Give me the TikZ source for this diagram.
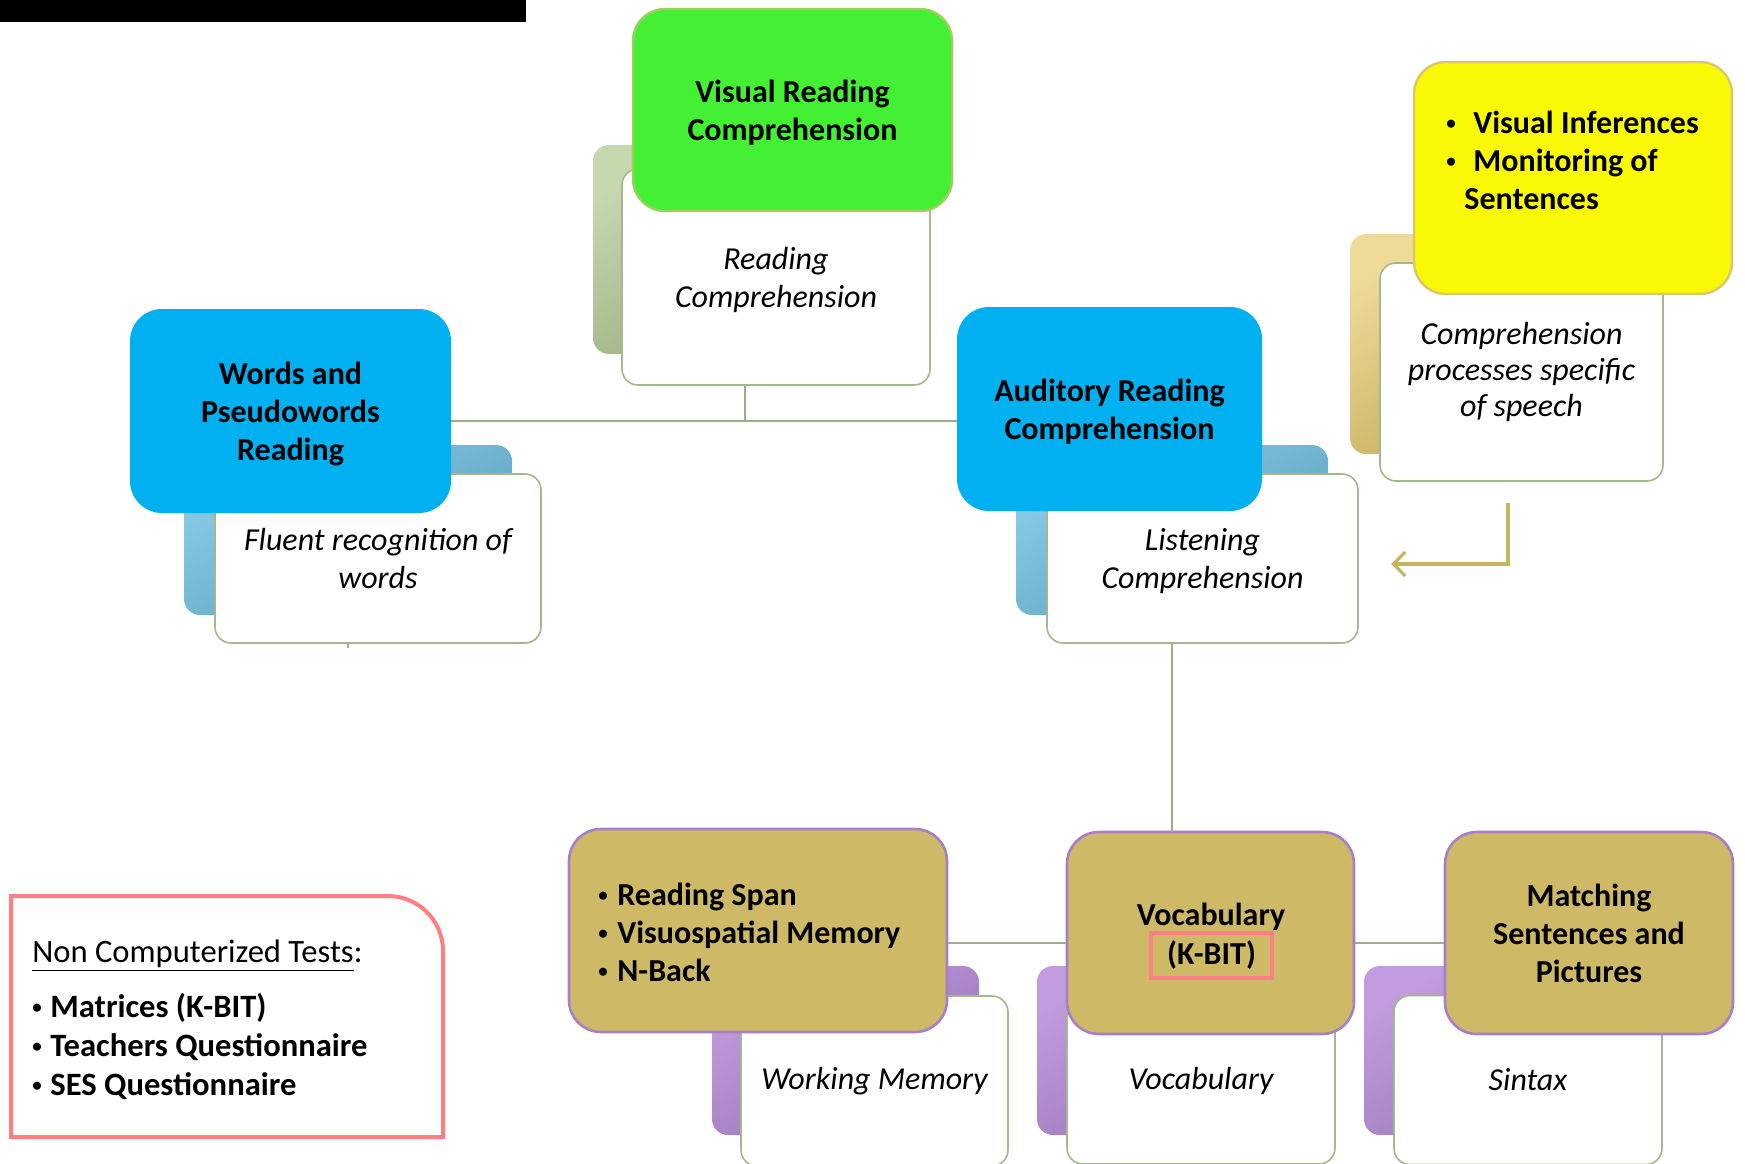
\documentclass[tikz,border=0pt]{standalone}
\usepackage{fontspec}
\setmainfont{Carlito}
\usetikzlibrary{arrows.meta}

\definecolor{greenfill}{HTML}{43F033}
\definecolor{greenline}{HTML}{9BD05C}
\definecolor{greentabA}{HTML}{C5D8AE}
\definecolor{greentabB}{HTML}{93A679}
\definecolor{bluefill}{HTML}{00B0F0}
\definecolor{bluetabA}{HTML}{8ACDE8}
\definecolor{bluetabB}{HTML}{5A9DBB}
\definecolor{yellowfill}{HTML}{F9F906}
\definecolor{yellowline}{HTML}{D9C66E}
\definecolor{yellowtabA}{HTML}{EFDB98}
\definecolor{yellowtabB}{HTML}{C2A958}
\definecolor{tanfill}{HTML}{CEB967}
\definecolor{purpleline}{HTML}{A67FC8}
\definecolor{purpletabA}{HTML}{C29CDE}
\definecolor{purpletabB}{HTML}{9672B4}
\definecolor{cardline}{HTML}{A5B88B}
\definecolor{linkgray}{HTML}{9AAE87}
\definecolor{arrowgold}{HTML}{C8B45E}
\definecolor{pinkline}{HTML}{FF7F82}

% small list bullet
\newcommand{\dotmark}{\raisebox{1.9pt}{\fontsize{9.5pt}{9.5pt}\selectfont •}}

\begin{document}
\begin{tikzpicture}[x=0.5pt, y=-0.5pt, >={Straight Barb[length=6pt,width=12pt]},
  box/.style={rounded corners=16pt, inner sep=0pt, align=center, text depth=0pt,
    font=\fontsize{16pt}{19pt}\selectfont\bfseries},
  card/.style={draw=cardline, line width=0.8pt, fill=white, rounded corners=8pt,
    inner sep=0pt, align=center, font=\fontsize{16pt}{19pt}\selectfont\itshape},
  tab/.style 2 args={rounded corners=8pt, top color=#1, bottom color=#2, shading angle=30},
  tanbox/.style={box, fill=tanfill, draw=purpleline, line width=1.3pt},
  link/.style={draw=linkgray, line width=1pt},
  plain/.style={inner sep=0pt, align=left, font=\fontsize{16pt}{19pt}\selectfont\bfseries}]

  \useasboundingbox (0,0) rectangle (1745,1163);
  \clip (0,0) rectangle (1745,1163);
  \fill[black] (0,0) rectangle (526,22);

  % visual reading
  \shade[tab={greentabA}{greentabB}] (593,145) rectangle (900,354);
  \node[card, text depth=0pt, minimum width=154pt, minimum height=108pt] (rc) at (776,277) {Reading\\Comprehension};
  \node[box, fill=greenfill, draw=greenline, line width=1.2pt, minimum width=159.5pt,
    minimum height=101pt] (vrc) at (792.5,110) {Visual Reading\\Comprehension};

  % words and pseudowords
  \shade[tab={bluetabA}{bluetabB}] (184,445) rectangle (512,615);
  \node[card, minimum width=163pt, minimum height=84.5pt] (fr) at (378,558.5) {Fluent recognition of\\words};
  \node[box, fill=bluefill, minimum width=160.5pt, minimum height=102pt] (wpr) at (290.5,411)
    {Words and\\Pseudowords\\Reading};

  % auditory reading
  \shade[tab={bluetabA}{bluetabB}] (1016,445) rectangle (1328,615);
  \node[card, text depth=0pt, minimum width=155.5pt, minimum height=84.5pt] (lc) at (1202.5,558.5) {Listening\\Comprehension};
  \node[box, fill=bluefill, minimum width=152.5pt, minimum height=102pt] (arc) at (1109.5,409)
    {Auditory Reading\\Comprehension};

  % speech comprehension
  \shade[tab={yellowtabA}{yellowtabB}] (1350,234) rectangle (1600,454);
  \node[card, font=\fontsize{16pt}{17.8pt}\selectfont\itshape, minimum width=141.5pt, minimum height=109pt]
    (cps) at (1521.5,372) {Comprehension\\processes specific\\of speech};
  \node[box, fill=yellowfill, draw=yellowline, line width=1.2pt, minimum width=159pt,
    minimum height=116pt] (vis) at (1573,178) {};
  \node[plain, anchor=west] (vistext) at (1446,160)
    {\makebox[13.5pt][l]{\dotmark}Visual Inferences\\\makebox[13.5pt][l]{\dotmark}Monitoring of\\\hspace*{9pt}Sentences};

  % working memory
  \shade[tab={purpletabA}{purpletabB}] (712,966) rectangle (979,1135);
  \node[card, minimum width=133.5pt, minimum height=85pt] (wm) at (874.5,1081) {Working Memory};
  \node[tanbox, minimum width=189pt, minimum height=101.5pt] (rs) at (758,930.5) {};
  \node[plain, anchor=west] (rstext) at (598,932)
    {\makebox[9.5pt][l]{\dotmark}Reading Span\\\makebox[9.5pt][l]{\dotmark}Visuospatial Memory\\\makebox[9.5pt][l]{\dotmark}N-Back};

  % vocabulary
  \shade[tab={purpletabA}{purpletabB}] (1037,966) rectangle (1300,1135);
  \node[card, minimum width=134pt, minimum height=83pt] (vw) at (1201,1081) {Vocabulary};
  \node[tanbox, minimum width=143.5pt, minimum height=101pt] (voc) at (1210.5,933) {};
  \node[plain] (voctext) at (1211,917) {Vocabulary};
  \node[plain, draw=pinkline, line width=1.6pt, minimum width=60.5pt, minimum height=22.5pt]
    (kbit) at (1211.5,955.5) {(K-BIT)};

  % syntax
  \shade[tab={purpletabA}{purpletabB}] (1364,966) rectangle (1650,1135);
  \node[card, minimum width=134pt, minimum height=84.5pt] (sx) at (1528,1080) {Sintax};
  \node[tanbox, minimum width=144pt, minimum height=101pt] (msp) at (1589,933)
    {Matching\\Sentences and\\Pictures};

  % connectors
  \coordinate (hub) at (745,421);
  \coordinate (vtop) at (1172,832);
  \coordinate (row) at (0,943);
  \coordinate (stub) at (348,648);
  \draw[link] (rc.south -| hub) -- (hub);
  \draw[link] (wpr.east |- hub) -- (arc.west |- hub);
  \draw[link] (lc.south -| vtop) -- (vtop);
  \draw[link] (rs.east |- row) -- (voc.west |- row);
  \draw[link] (voc.east |- row) -- (msp.west |- row);
  \draw[link] (fr.south -| stub) -- (stub);

  \coordinate (bendtop) at (1508,503);
  \coordinate (bendend) at (1391,564);
  \draw[arrowgold, line width=1.6pt, ->] (bendtop) |- (bendend);

  % non computerized tests
  \node[anchor=west, inner sep=0pt, align=left, font=\fontsize{16.3pt}{19.5pt}\selectfont] (nct) at (32,1020)
    {\underline{Non Computerized Tests}:\\[8pt]
     \textbf{\makebox[9pt][l]{\dotmark}Matrices (K-BIT)}\\
     \textbf{\makebox[9pt][l]{\dotmark}Teachers Questionnaire}\\
     \textbf{\makebox[9pt][l]{\dotmark}SES Questionnaire}};
  \draw[pinkline, line width=2pt] (11,1137) -- (11,896) -- (388,896)
    arc[start angle=90, end angle=0, radius=27.5pt] -- (443,1137) -- cycle;
\end{tikzpicture}
\end{document}
